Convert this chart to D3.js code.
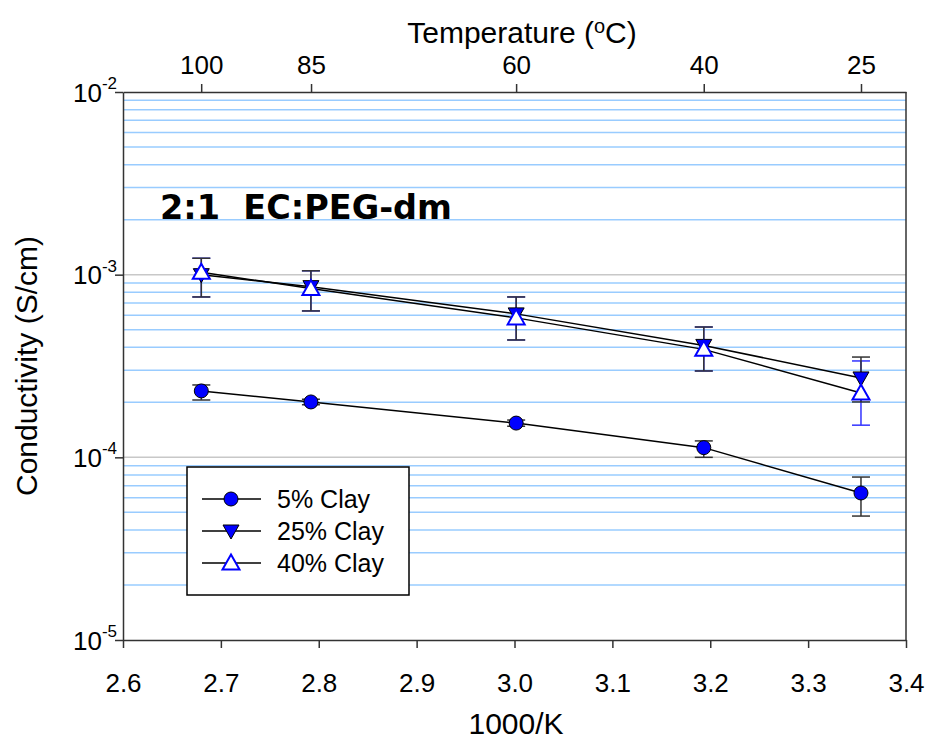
<!DOCTYPE html>
<html>
<head>
<meta charset="utf-8">
<script src="https://cdn.jsdelivr.net/npm/d3@7"></script>
<style>
  body { margin: 0; background: #fff; }
  svg { display: block; font-family: "Liberation Sans", Arial, sans-serif; }
</style>
</head>
<body>
<svg id="chart" width="930" height="742"></svg>
<script>
// x values (1000/K) and measured conductivity (S/cm)
const invT = [2.68, 2.792, 3.0017, 3.1934, 3.354];
const clay5 = [2.31e-4, 2.01e-4, 1.54e-4, 1.13e-4, 6.38e-5];
const clay5Hi = [2.49e-4, 2.08e-4, 1.60e-4, 1.23e-4, 7.8e-5];
const clay5Lo = [2.06e-4, 1.94e-4, 1.48e-4, 1.00e-4, 4.77e-5];
const clay25 = [1.0e-3, 8.6e-4, 6.1e-4, 4.1e-4, 2.72e-4];
const clay25Hi = [1.23e-3, 1.05e-3, 7.55e-4, 5.17e-4, 3.54e-4];
const clay25Lo = [7.55e-4, 6.33e-4, 4.39e-4, 2.97e-4, 2.01e-4];
const clay40 = [1.03e-3, 8.4e-4, 5.8e-4, 3.9e-4, 2.25e-4];
const clay40Hi = [1.23e-3, 1.05e-3, 7.55e-4, 5.17e-4, 3.37e-4];
const clay40Lo = [7.55e-4, 6.33e-4, 4.39e-4, 2.97e-4, 1.50e-4];

const xTicks = [2.6, 2.7, 2.8, 2.9, 3.0, 3.1, 3.2, 3.3, 3.4];
const tempTicks = [100, 85, 60, 40, 25];
const yDecades = [-5, -4, -3, -2];

const svg = d3.select("#chart");
const mLeft = 123, mRight = 906, mTop = 92, mBottom = 640;

const x = d3.scaleLinear().domain([2.6, 3.4]).range([mLeft, mRight]);
const y = d3.scaleLog().domain([1e-5, 1e-2]).range([mBottom, mTop]);

// grid lines: minor (blue) and major decades (gray)
let minor = [];
for (let k = -5; k < -2; k++) {
  for (let m = 2; m <= 9; m++) minor.push(m * Math.pow(10, k));
}
svg.append("g").selectAll("line").data(minor).enter().append("line")
  .attr("x1", mLeft).attr("x2", mRight)
  .attr("y1", d => y(d)).attr("y2", d => y(d))
  .attr("stroke", "#99ccff").attr("stroke-width", 1.5);
svg.append("g").selectAll("line").data([1e-4, 1e-3]).enter().append("line")
  .attr("x1", mLeft).attr("x2", mRight)
  .attr("y1", d => y(d)).attr("y2", d => y(d))
  .attr("stroke", "#c8c8c8").attr("stroke-width", 1.5);

// axes
const xAxis = svg.append("g")
  .attr("transform", `translate(0,${mBottom})`)
  .call(d3.axisBottom(x).tickValues(xTicks).tickFormat(d3.format(".1f")).tickSize(8).tickSizeOuter(0).tickPadding(26));
xAxis.selectAll("text").attr("font-size", 26).attr("fill", "#000");

const topAxis = svg.append("g")
  .attr("transform", `translate(0,${mTop})`)
  .call(d3.axisTop(x).tickValues(tempTicks.map(t => 1000 / (t + 273.15)))
    .tickFormat((d, i) => tempTicks[i]).tickSize(8).tickSizeOuter(0).tickPadding(10));
topAxis.selectAll("text").attr("font-size", 26).attr("fill", "#000");

const yAxis = svg.append("g")
  .attr("transform", `translate(${mLeft},0)`)
  .call(d3.axisLeft(y).tickValues(yDecades.map(k => Math.pow(10, k))).tickFormat("").tickSize(8).tickSizeOuter(0));
yAxis.selectAll(".tick").append("text")
  .attr("x", -6).attr("dy", "0.35em").attr("text-anchor", "end")
  .attr("fill", "#000").attr("font-size", 26)
  .each(function(d) {
    const t = d3.select(this);
    t.append("tspan").text("10");
    t.append("tspan").attr("font-size", 17).attr("dy", "-0.75em").text(Math.round(Math.log10(d)));
  });
[xAxis, topAxis, yAxis].forEach(a => a.selectAll("line, path").attr("stroke", "#333").attr("stroke-width", 1.5));
svg.append("line").attr("x1", mRight).attr("x2", mRight).attr("y1", mTop).attr("y2", mBottom)
  .attr("stroke", "#333").attr("stroke-width", 1.5);

// axis titles
svg.append("text").attr("x", 516).attr("y", 734).attr("text-anchor", "middle")
  .attr("font-size", 30).text("1000/K");
const tt = svg.append("text").attr("x", 522).attr("y", 43).attr("text-anchor", "middle").attr("font-size", 30);
tt.append("tspan").text("Temperature (");
tt.append("tspan").attr("font-size", 20).attr("dy", "-0.5em").text("o");
tt.append("tspan").attr("dy", "0.33em").text("C)");
svg.append("text").attr("transform", `translate(37,${(mTop + mBottom) / 2}) rotate(-90)`)
  .attr("text-anchor", "middle").attr("font-size", 30).text("Conductivity (S/cm)");

svg.append("text").attr("x", 160).attr("y", 219)
  .attr("font-family", "DejaVu Sans, Verdana, sans-serif").attr("font-weight", "bold")
  .attr("font-size", 33.5).attr("xml:space", "preserve").text("2:1  EC:PEG-dm");

// series
const series = [
  { name: "5% Clay", v: clay5, hi: clay5Hi, lo: clay5Lo, shape: "circle", errColor: "#333" },
  { name: "40% Clay", v: clay40, hi: clay40Hi, lo: clay40Lo, shape: "up", errColor: "#3333ff" },
  { name: "25% Clay", v: clay25, hi: clay25Hi, lo: clay25Lo, shape: "down", errColor: "#333" }
];

const line = d3.line().x((d, i) => x(invT[i])).y(d => y(d));
const cap = 9;

series.forEach(s => {
  const g = svg.append("g");
  invT.forEach((t, i) => {
    const cx = x(t);
    g.append("line").attr("x1", cx).attr("x2", cx).attr("y1", y(s.hi[i])).attr("y2", y(s.lo[i]))
      .attr("stroke", s.errColor).attr("stroke-width", 1.5);
    [s.hi[i], s.lo[i]].forEach(e => {
      g.append("line").attr("x1", cx - cap).attr("x2", cx + cap).attr("y1", y(e)).attr("y2", y(e))
        .attr("stroke", s.errColor).attr("stroke-width", 1.5);
    });
  });
});

series.forEach(s => {
  svg.append("path").datum(s.v).attr("d", line)
    .attr("fill", "none").attr("stroke", "#000").attr("stroke-width", 1.5);
});

function drawMarker(g, shape, cx, cy) {
  if (shape === "circle") {
    g.append("circle").attr("cx", cx).attr("cy", cy).attr("r", 7)
      .attr("fill", "#0000ff").attr("stroke", "#000").attr("stroke-width", 1);
  } else if (shape === "down") {
    g.append("path").attr("transform", `translate(${cx},${cy})`)
      .attr("d", "M-8,-6L8,-6L0,8Z").attr("fill", "#0000ff").attr("stroke", "#000").attr("stroke-width", 1);
  } else {
    g.append("path").attr("transform", `translate(${cx},${cy})`)
      .attr("d", "M-8.5,6.5L8.5,6.5L0,-8.5Z").attr("fill", "#fff").attr("stroke", "#0000ff").attr("stroke-width", 2);
  }
}

[series[2], series[1], series[0]].forEach(s => {
  const g = svg.append("g");
  invT.forEach((t, i) => drawMarker(g, s.shape, x(t), y(s.v[i])));
});

// legend
const legend = svg.append("g");
legend.append("rect").attr("x", 187).attr("y", 467).attr("width", 222).attr("height", 128)
  .attr("fill", "#fff").attr("stroke", "#000").attr("stroke-width", 1.5);
const legendItems = [series[0], series[2], series[1]];
legendItems.forEach((s, i) => {
  const ly = 499 + i * 32;
  legend.append("line").attr("x1", 202).attr("x2", 261).attr("y1", ly).attr("y2", ly)
    .attr("stroke", "#000").attr("stroke-width", 1.5);
  drawMarker(legend, s.shape, 231, ly);
  legend.append("text").attr("x", 277).attr("y", ly).attr("dy", "0.36em")
    .attr("font-size", 25).text(s.name);
});
</script>
</body>
</html>
